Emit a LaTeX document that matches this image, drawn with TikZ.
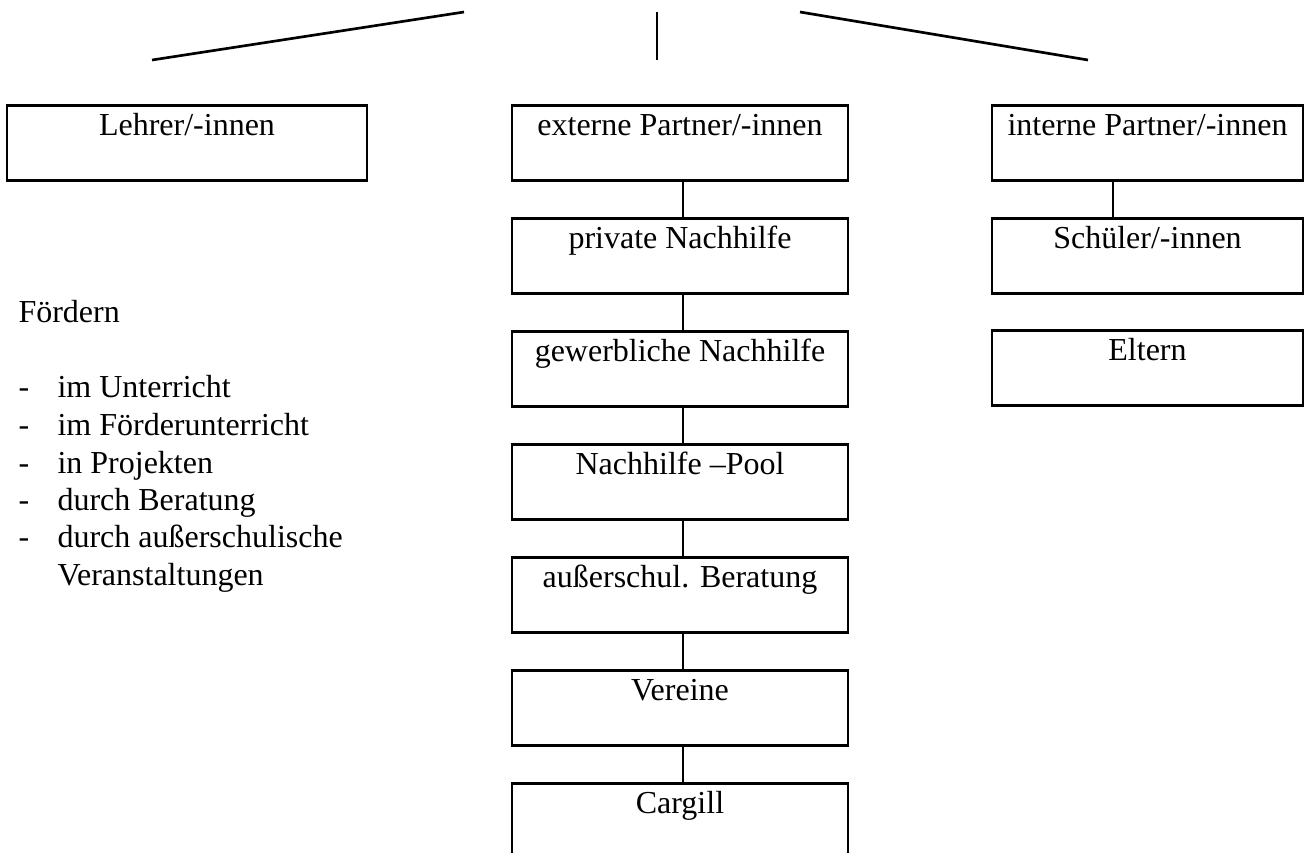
\documentclass[tikz,border=0pt]{standalone}
\usepackage{fontspec}
\setmainfont{Liberation Serif}

\tikzset{
  kasten/.style={draw, line width=1pt, inner sep=0pt, anchor=north,
    text height=11.2pt, text depth=16.9pt, font=\fontsize{12pt}{14pt}\selectfont},
  linie/.style={line width=0.8pt},
  eintrag/.style={anchor=base west, inner sep=0pt, font=\fontsize{12pt}{14pt}\selectfont}
}

\begin{document}
\begin{tikzpicture}[x=0.375pt, y=-0.375pt]
    \useasboundingbox (0,0) rectangle (1304,852);

    % obere Linien
    \draw[line width=1pt] (152,60) -- (464,12);
    \draw[line width=0.6pt] (657,12) -- (657,60);
    \draw[line width=1pt] (800,12) -- (1088,60);

    % linke Spalte
    \node[kasten, minimum width=135pt] (lehrer) at (187,104) {Lehrer/-innen};

    \node[eintrag] (foerdern) at (18,322) {Fördern};
    \foreach \y/\t [count=\i] in {397/im Unterricht, 435/im Förderunterricht, 473/in Projekten, 510/durch Beratung, 547/durch außerschulische}
    {
        \node[eintrag] (strich\i) at (18,\y) {-};
        \node[eintrag] (punkt\i) at (57,\y) {\t};
    }
    \node[eintrag] (punkt6) at (57,585) {Veranstaltungen};

    % mittlere Spalte
    \node[kasten, minimum width=126pt] (extern) at (680,104) {externe Partner/-innen};
    \node[kasten, minimum width=126pt] (privat) at (680,217) {private Nachhilfe};
    \node[kasten, minimum width=126pt] (gewerbe) at (680,330) {gewerbliche Nachhilfe};
    \node[kasten, minimum width=126pt] (pool) at (680,443) {Nachhilfe –Pool};
    \node[kasten, minimum width=126pt] (beratung) at (680,556) {außerschul. Beratung};
    \node[kasten, minimum width=126pt] (vereine) at (680,669) {Vereine};
    \node[kasten, minimum width=126pt] (cargill) at (680,782) {Cargill};

    \foreach \a/\b in {extern/privat, privat/gewerbe, gewerbe/pool, pool/beratung, beratung/vereine, vereine/cargill}
        \draw[linie] ([xshift=1pt]\a.south) -- ([xshift=1pt]\b.north);

    % rechte Spalte
    \node[kasten, minimum width=116.6pt] (intern) at (1147.5,104) {interne Partner/-innen};
    \node[kasten, minimum width=116.6pt] (schueler) at (1147.5,217) {Schüler/-innen};
    \node[kasten, minimum width=116.6pt] (eltern) at (1147.5,329) {Eltern};

    \draw[linie] ([xshift=-13.1pt]intern.south) -- ([xshift=-13.1pt]schueler.north);
\end{tikzpicture}
\end{document}
